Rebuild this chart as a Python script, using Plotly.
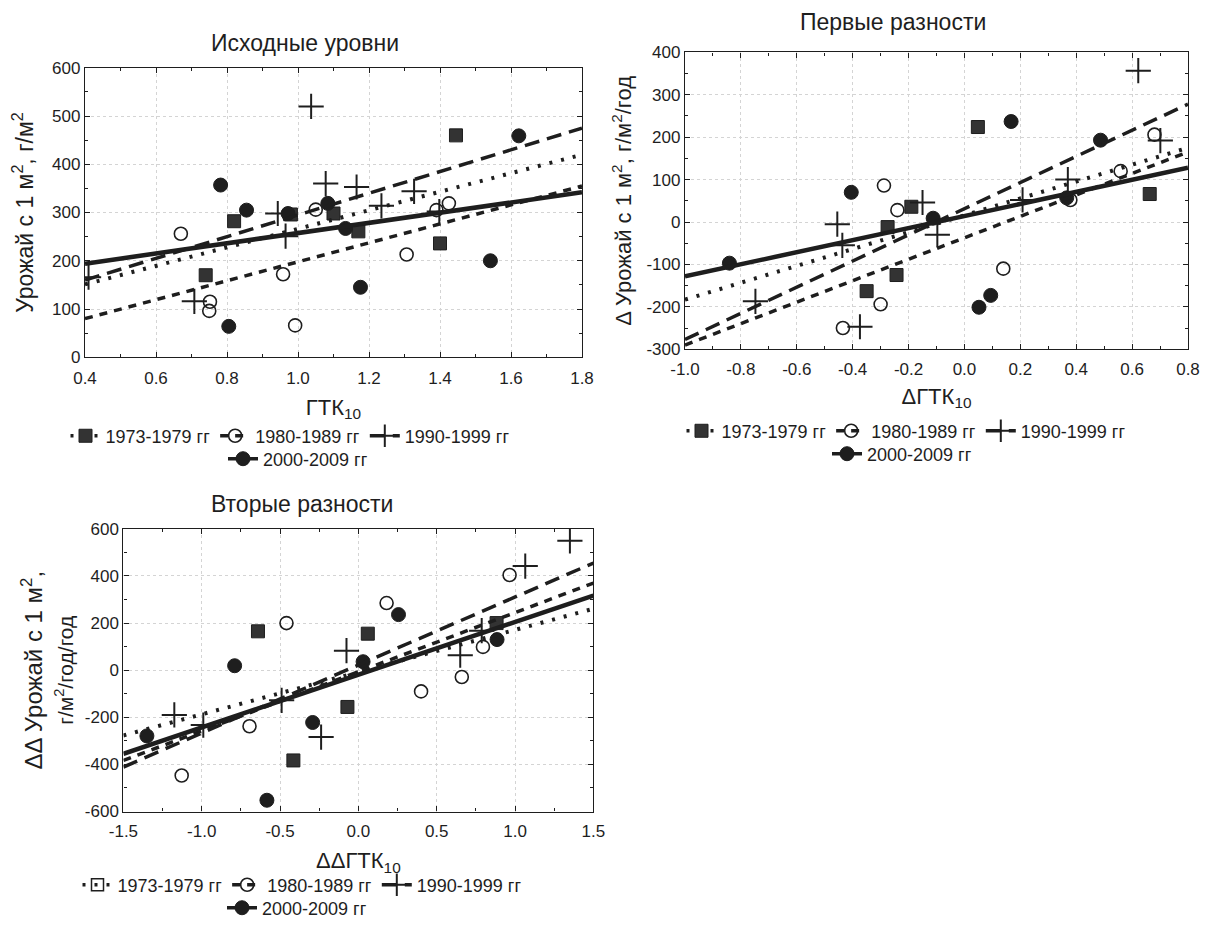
import plotly.graph_objects as go

# ---------------- DATA ----------------
series_names = ["1973-1979 гг", "1980-1989 гг", "1990-1999 гг", "2000-2009 гг"]

# Panel 1: Исходные уровни
p1_7379_x = [0.82, 0.74, 0.98, 1.10, 1.17, 1.445, 1.40]
p1_7379_y = [282, 170, 296, 298, 261, 460, 236]
p1_8089_x = [0.67, 0.752, 0.750, 0.958, 0.992, 1.05, 1.306, 1.39, 1.425]
p1_8089_y = [256, 115, 96, 172, 66, 306, 213, 305, 319]
p1_9099_x = [0.41, 0.708, 1.037, 0.943, 0.965, 1.078, 1.165, 1.235, 1.327, 1.398]
p1_9099_y = [166, 116, 520, 298, 251, 360, 353, 314, 344, 302]
p1_0009_x = [0.782, 0.855, 0.805, 0.972, 1.084, 1.134, 1.176, 1.542, 1.622]
p1_0009_y = [357, 305, 64, 298, 319, 267, 145, 200, 459]
p1_fit_x = [0.4, 1.8]
p1_fit_7379 = [151, 420]
p1_fit_8089 = [80, 355]
p1_fit_9099 = [160, 475]
p1_fit_0009 = [194, 342]

# Panel 2: Первые разности
p2_7379_x = [0.048, 0.663, -0.19, -0.275, -0.243, -0.35]
p2_7379_y = [224, 66, 36, -12, -125, -163]
p2_8089_x = [-0.288, -0.24, -0.30, -0.435, 0.139, 0.379, 0.559, 0.68]
p2_8089_y = [86, 28, -194, -250, -110, 52, 120, 206]
p2_9099_x = [0.622, 0.701, 0.37, 0.208, -0.150, -0.097, -0.455, -0.437, -0.748, -0.374]
p2_9099_y = [357, 192, 100, 52, 46, -30, -5, -55, -187, -247]
p2_0009_x = [-0.841, -0.405, -0.112, 0.167, 0.052, 0.094, 0.487, 0.366]
p2_0009_y = [-97, 70, 9, 237, -201, -173, 193, 57]
p2_fit_x = [-1.0, 0.8]
p2_fit_7379 = [-183, 175]
p2_fit_8089 = [-290, 165]
p2_fit_9099 = [-277, 278]
p2_fit_0009 = [-128, 128]

# Panel 3: Вторые разности
p3_7379_x = [-0.641, 0.06, -0.07, -0.415, 0.882]
p3_7379_y = [165, 155, -156, -383, 200]
p3_8089_x = [-0.459, 0.18, 0.965, 0.795, 0.66, 0.40, -0.695, -1.128]
p3_8089_y = [200, 285, 404, 99, -29, -90, -238, -447]
p3_9099_x = [1.35, 1.065, 0.65, 0.787, -0.076, -0.238, -0.49, -0.99, -1.175]
p3_9099_y = [549, 442, 64, 168, 83, -284, -128, -233, -190]
p3_0009_x = [0.256, 0.03, -0.79, -0.292, -1.35, -0.584, 0.885]
p3_0009_y = [236, 36, 19, -222, -279, -552, 130]
p3_fit_x = [-1.5, 1.5]
p3_fit_7379 = [-277, 261]
p3_fit_8089 = [-383, 370]
p3_fit_9099 = [-411, 455]
p3_fit_0009 = [-355, 317]

# Tick labels
p1_xticks = [0.4, 0.6, 0.8, 1.0, 1.2, 1.4, 1.6, 1.8]
p1_xtext = ["0.4", "0.6", "0.8", "1.0", "1.2", "1.4", "1.6", "1.8"]
p1_yticks = [0, 100, 200, 300, 400, 500, 600]
p2_xticks = [-1.0, -0.8, -0.6, -0.4, -0.2, 0.0, 0.2, 0.4, 0.6, 0.8]
p2_xtext = ["-1.0", "-0.8", "-0.6", "-0.4", "-0.2", "0.0", "0.2", "0.4", "0.6", "0.8"]
p2_yticks = [-300, -200, -100, 0, 100, 200, 300, 400]
p3_xticks = [-1.5, -1.0, -0.5, 0.0, 0.5, 1.0, 1.5]
p3_xtext = ["-1.5", "-1.0", "-0.5", "0.0", "0.5", "1.0", "1.5"]
p3_yticks = [-600, -400, -200, 0, 200, 400, 600]

# ---------------- STYLE ----------------
INK = "#1e1e1e"
FONT = "Liberation Sans, Arial, sans-serif"
W, H = 1205, 927

markers = [
    dict(symbol="square", size=13, color="#333333", line=dict(color=INK, width=1)),
    dict(symbol="circle-open", size=13, color=INK, line=dict(color=INK, width=1.6)),
    dict(symbol="cross-thin-open", size=18, color=INK, line=dict(color=INK, width=2)),
    dict(symbol="circle", size=14, color=INK, line=dict(color=INK, width=1)),
]
lines = [
    dict(color=INK, width=4, dash="3px,9px"),
    dict(color=INK, width=3.5, dash="8px,7px"),
    dict(color=INK, width=3.5, dash="15px,8px"),
    dict(color=INK, width=4.5, dash="solid"),
]

fig = go.Figure()

panels = [
    ("x", "y",
     [(p1_7379_x, p1_7379_y), (p1_8089_x, p1_8089_y), (p1_9099_x, p1_9099_y), (p1_0009_x, p1_0009_y)],
     p1_fit_x, [p1_fit_7379, p1_fit_8089, p1_fit_9099, p1_fit_0009], ("legend", "legend2"), False),
    ("x2", "y2",
     [(p2_7379_x, p2_7379_y), (p2_8089_x, p2_8089_y), (p2_9099_x, p2_9099_y), (p2_0009_x, p2_0009_y)],
     p2_fit_x, [p2_fit_7379, p2_fit_8089, p2_fit_9099, p2_fit_0009], ("legend3", "legend4"), False),
    ("x3", "y3",
     [(p3_7379_x, p3_7379_y), (p3_8089_x, p3_8089_y), (p3_9099_x, p3_9099_y), (p3_0009_x, p3_0009_y)],
     p3_fit_x, [p3_fit_7379, p3_fit_8089, p3_fit_9099, p3_fit_0009], ("legend5", "legend6"), True),
]

for xa, ya, pts, fx_, fits, legs, open_sq in panels:
    for i, (px, py) in enumerate(pts):
        fig.add_trace(go.Scatter(x=px, y=py, mode="markers", marker=markers[i],
                                 xaxis=xa, yaxis=ya, showlegend=False, hoverinfo="skip"))
    for i, fyv in enumerate(fits):
        fig.add_trace(go.Scatter(x=fx_, y=fyv, mode="lines", line=lines[i],
                                 xaxis=xa, yaxis=ya, showlegend=False, hoverinfo="skip"))
    for i, name in enumerate(series_names):
        mk = dict(markers[i])
        if open_sq and i == 0:
            mk = dict(symbol="square-open", size=12, color=INK, line=dict(color=INK, width=1.5))
        fig.add_trace(go.Scatter(x=[None], y=[None], mode="lines+markers", name=name,
                                 marker=mk, line=dict(lines[i], width=min(lines[i]["width"], 3.5)),
                                 xaxis=xa, yaxis=ya, showlegend=True,
                                 legend=legs[0] if i < 3 else legs[1]))


def axis(domain, rng, tickvals, ticktext, title, minor_dtick, standoff, anchor, tsize=22, lab_off=0):
    return dict(
        domain=domain, range=rng, anchor=anchor, automargin=False,
        tickmode="array", tickvals=tickvals, ticktext=ticktext,
        showgrid=True, gridcolor="#d4d4d4", griddash="dot", gridwidth=1,
        zeroline=False, showline=True, linecolor=INK, linewidth=1.3, mirror="ticks",
        ticks="inside", ticklen=5, tickcolor=INK, ticklabelstandoff=lab_off,
        minor=dict(ticks="inside", ticklen=3, tickcolor=INK, dtick=minor_dtick, showgrid=False),
        tickfont=dict(family=FONT, size=17, color=INK),
        title=dict(text=title, font=dict(family=FONT, size=tsize, color=INK), standoff=standoff),
    )


def fx(px):
    return px / W


def fy(py):
    return 1 - py / H


layout = dict(
    width=W, height=H, margin=dict(l=0, r=0, t=0, b=0),
    paper_bgcolor="white", plot_bgcolor="white",
    font=dict(family=FONT, color=INK),
    xaxis=axis([fx(85), fx(582)], [0.4, 1.8], p1_xticks, p1_xtext, "ГТК<sub>10</sub>", 0.1, 12, "y", lab_off=5),
    yaxis=axis([fy(358), fy(68)], [0, 600], p1_yticks, [str(v) for v in p1_yticks],
               "Урожай с 1 м<sup>2</sup>, г/м<sup>2</sup>", 50, 12, "x", 23),
    xaxis2=axis([fx(685), fx(1188)], [-1.0, 0.8], p2_xticks, p2_xtext, "ΔГТК<sub>10</sub>", 0.1, 10, "y2", lab_off=4),
    yaxis2=axis([fy(350), fy(52.5)], [-300, 400], p2_yticks, [str(v) for v in p2_yticks],
                "Δ Урожай с 1 м<sup>2</sup>, г/м<sup>2</sup>/год", 50, 8, "x2"),
    xaxis3=axis([fx(123.4), fx(593.4)], [-1.5, 1.5], p3_xticks, p3_xtext, "ΔΔГТК<sub>10</sub>", 0.25, 12, "y3", lab_off=4),
    yaxis3=axis([fy(813.3), fy(530)], [-600, 600], p3_yticks, [str(v) for v in p3_yticks],
                "ΔΔ Урожай с 1 м<sup>2</sup>,<br><span style='font-size:21px'>г/м<sup>2</sup>/год/год</span>",
                100, 4, "x3", 24),
)

leg_common = dict(orientation="h", xanchor="center", yanchor="middle", bgcolor="rgba(0,0,0,0)",
                  font=dict(family=FONT, size=18, color=INK), itemwidth=30, tracegroupgap=0,
                  itemclick=False, itemdoubleclick=False)
legend_pos = {
    "legend": (fx(290), fy(437)), "legend2": (fx(298), fy(460)),
    "legend3": (fx(906), fy(432)), "legend4": (fx(902), fy(455)),
    "legend5": (fx(302), fy(887)), "legend6": (fx(297), fy(910)),
}
for k, (lx, ly) in legend_pos.items():
    layout[k] = dict(leg_common, x=lx, y=ly)

titles = [("Исходные уровни", 305, 43), ("Первые разности", 893, 22), ("Вторые разности", 302, 505)]
layout["annotations"] = [
    dict(text=t, x=fx(tx), y=fy(ty), xref="paper", yref="paper", showarrow=False,
         xanchor="center", yanchor="middle", font=dict(family=FONT, size=23, color=INK))
    for t, tx, ty in titles
]

fig.update_layout(**layout)
fig.write_html("out.html", config={"displayModeBar": False},
               post_script="document.body.style.margin='0px';")
